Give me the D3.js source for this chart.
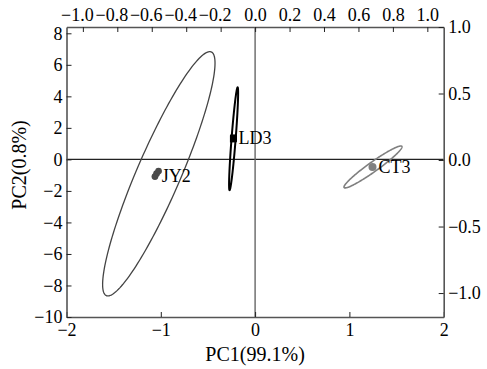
<!DOCTYPE html>
<html>
<head>
<meta charset="utf-8">
<script src="https://d3js.org/d3.v7.min.js"></script>
<style>
    body { margin: 0; background: #fff; }
    text { font-family: "Liberation Serif", "Times New Roman", serif; }
</style>
</head>
<body>
<div id="my_dataviz"></div>
<script>
    // groups and their scores
    var groups = ["JY2", "LD3", "CT3"];
    var jy2X = [-1.024, -1.045, -1.062];
    var jy2Y = [-0.74, -0.90, -1.09];
    var ld3X = [-0.232, -0.228, -0.230];
    var ld3Y = [1.30, 1.36, 1.33];
    var ct3X = [1.245];
    var ct3Y = [-0.48];

    // confidence ellipses: centre, half extent on x / y, correlation
    var ellCx = [-1.021, -0.228, 1.25];
    var ellCy = [-0.914, 1.31, -0.48];
    var ellSx = [0.596, 0.048, 0.3075];
    var ellSy = [7.75, 3.26, 1.33];
    var ellR = [0.906, 0.89, 0.96];

    // tick labels
    var bottomTicks = [-2, -1, 0, 1, 2];
    var leftTicks = [-10, -8, -6, -4, -2, 0, 2, 4, 6, 8];
    var topTicks = [-1.0, -0.8, -0.6, -0.4, -0.2, 0.0, 0.2, 0.4, 0.6, 0.8, 1.0];
    var rightTicks = [-1.0, -0.5, 0.0, 0.5, 1.0];

    var xTitle = "PC1(99.1%)";
    var yTitle = "PC2(0.8%)";

    var W = 487, H = 369;
    var margin = { top: 27, right: 43.3, bottom: 52, left: 66.5 },
        width = W - margin.left - margin.right,
        height = H - margin.top - margin.bottom;

    var svg = d3.select("#my_dataviz")
        .append("svg")
        .attr("width", W)
        .attr("height", H)
        .append("g")
        .attr("transform", "translate(" + margin.left + "," + margin.top + ")");

    var x = d3.scaleLinear().domain([-2, 2]).range([0, width]);
    var y = d3.scaleLinear().domain([-10, 8.4]).range([height, 0]);
    var x2 = d3.scaleLinear().domain([-1.095, 1.095]).range([0, width]);
    var y2 = d3.scaleLinear().domain([-1.18, 1.0]).range([height, 0]);

    var frameCol = "#555";

    // zero lines
    svg.append("line")
        .attr("x1", 0).attr("x2", width)
        .attr("y1", y(0)).attr("y2", y(0))
        .attr("stroke", "#222").attr("stroke-width", 1.2);
    svg.append("line")
        .attr("x1", x(0)).attr("x2", x(0))
        .attr("y1", 0).attr("y2", height)
        .attr("stroke", "#666").attr("stroke-width", 1.4);

    function styleAxis(g) {
        g.select(".domain").attr("stroke", frameCol).attr("stroke-width", 1.6);
        g.selectAll(".tick line").attr("stroke", "#222").attr("stroke-width", 1);
        g.selectAll("text").attr("fill", "#000").style("font-size", "18px")
            .style("font-family", '"Liberation Serif", "Times New Roman", serif');
    }

    // bottom
    svg.append("g")
        .attr("transform", "translate(0," + height + ")")
        .call(d3.axisBottom(x).tickValues(bottomTicks).tickFormat(d3.format("d"))
            .tickSizeInner(-5).tickSizeOuter(0).tickPadding(6))
        .call(styleAxis);
    // left
    svg.append("g")
        .call(d3.axisLeft(y).tickValues(leftTicks).tickFormat(d3.format("d"))
            .tickSizeInner(-5).tickSizeOuter(0).tickPadding(4))
        .call(styleAxis);
    // top
    var topAxis = svg.append("g")
        .call(d3.axisTop(x2).tickValues(topTicks).tickFormat(d3.format(".1f"))
            .tickSizeInner(-5).tickSizeOuter(0).tickPadding(6))
        .call(styleAxis);
    topAxis.selectAll(".tick text")
        .attr("dx", function (d) { return d < 0 ? -6 : 0; });
    // right
    svg.append("g")
        .attr("transform", "translate(" + width + ",0)")
        .call(d3.axisRight(y2).tickValues(rightTicks).tickFormat(d3.format(".1f"))
            .tickSizeInner(-5).tickSizeOuter(0).tickPadding(4.5))
        .call(styleAxis);

    // ellipses
    var ellStroke = ["#444", "#000", "#808080"];
    var ellWidth = [1.3, 2.0, 1.6];
    var line = d3.line().curve(d3.curveLinearClosed);
    for (var i = 0; i < groups.length; i++) {
        var pts = d3.range(0, 360, 2).map(function (deg) {
            var t = deg * Math.PI / 180;
            var ex = ellCx[i] + ellSx[i] * Math.cos(t);
            var ey = ellCy[i] + ellSy[i] * (ellR[i] * Math.cos(t) + Math.sqrt(1 - ellR[i] * ellR[i]) * Math.sin(t));
            return [x(ex), y(ey)];
        });
        svg.append("path")
            .attr("d", line(pts))
            .attr("fill", "none")
            .attr("stroke", ellStroke[i])
            .attr("stroke-width", ellWidth[i]);
    }

    // points
    svg.selectAll("jy2")
        .data(jy2X)
        .enter()
        .append("circle")
        .attr("cx", function (d) { return x(d); })
        .attr("cy", function (d, j) { return y(jy2Y[j]); })
        .attr("r", 3.4)
        .attr("fill", "#4a4a4a");
    svg.selectAll("ld3")
        .data(ld3X)
        .enter()
        .append("rect")
        .attr("x", function (d) { return x(d) - 3.3; })
        .attr("y", function (d, j) { return y(ld3Y[j]) - 3.5; })
        .attr("width", 6.6)
        .attr("height", 7)
        .attr("fill", "#000");
    svg.selectAll("ct3")
        .data(ct3X)
        .enter()
        .append("circle")
        .attr("cx", function (d) { return x(d); })
        .attr("cy", function (d, j) { return y(ct3Y[j]); })
        .attr("r", 4)
        .attr("fill", "#808080");

    // group labels next to the points
    var gx = [d3.mean(jy2X), d3.mean(ld3X), d3.mean(ct3X)];
    var gy = [d3.mean(jy2Y), d3.mean(ld3Y), d3.mean(ct3Y)];
    var ldx = [5, 5, 6], ldy = [8, 6, 6];
    svg.selectAll("glabel")
        .data(groups)
        .enter()
        .append("text")
        .attr("x", function (d, j) { return x(gx[j]) + ldx[j]; })
        .attr("y", function (d, j) { return y(gy[j]) + ldy[j]; })
        .style("font-size", "18px")
        .attr("fill", "#000")
        .text(function (d) { return d; });

    // axis titles
    svg.append("text")
        .attr("x", x(0))
        .attr("y", height + 44)
        .attr("text-anchor", "middle")
        .style("font-size", "20px")
        .attr("fill", "#000")
        .text(xTitle);
    svg.append("text")
        .attr("transform", "translate(" + (26 - margin.left) + "," + (165 - margin.top) + ")rotate(-90)")
        .attr("text-anchor", "middle")
        .style("font-size", "20px")
        .attr("fill", "#000")
        .text(yTitle);
</script>
</body>
</html>
